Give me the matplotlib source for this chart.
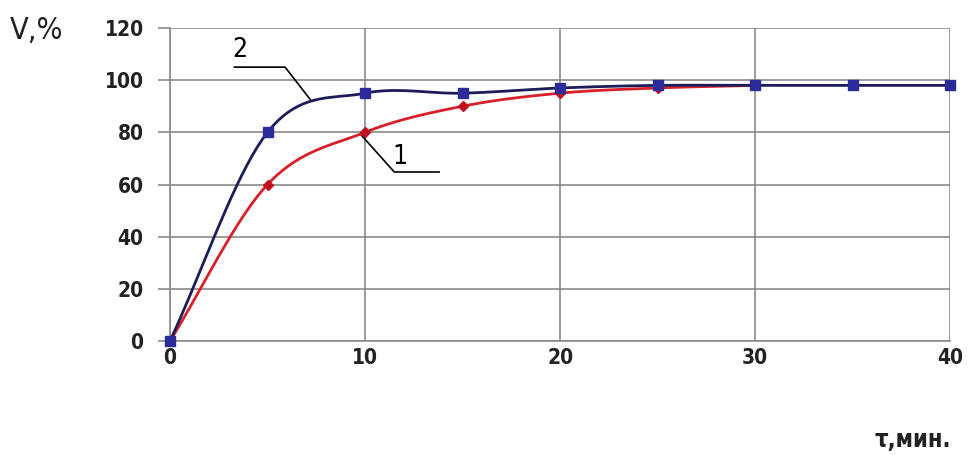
import matplotlib.pyplot as plt
import numpy as np

# данные: время, мин и степень, %
t1 = [0, 5, 10, 15, 20, 25, 30]
v1 = [0, 60, 80, 90, 95, 97, 98]
t2 = [0, 5, 10, 15, 20, 25, 30, 35, 40]
v2 = [0, 80, 95, 95, 97, 98, 98, 98, 98]

x_ticks = [0, 10, 20, 30, 40]
y_ticks = [0, 20, 40, 60, 80, 100, 120]

FONT = ['DejaVu Sans']


# сглаживание как в Excel (Catmull-Rom)
def smooth(x, y, n=20):
    x = np.asarray(x, float)
    y = np.asarray(y, float)
    px = np.concatenate([[2 * x[0] - x[1]], x, [2 * x[-1] - x[-2]]])
    py = np.concatenate([[2 * y[0] - y[1]], y, [2 * y[-1] - y[-2]]])
    xs, ys = [], []
    s = np.linspace(0, 1, n)
    for i in range(1, len(px) - 2):
        for p, out in ((px, xs), (py, ys)):
            p0, p1, p2, p3 = p[i - 1], p[i], p[i + 1], p[i + 2]
            out.extend(0.5 * (2 * p1 + (-p0 + p2) * s
                              + (2 * p0 - 5 * p1 + 4 * p2 - p3) * s ** 2
                              + (-p0 + 3 * p1 - 3 * p2 + p3) * s ** 3))
    return xs, ys


fig = plt.figure(figsize=(9.68, 4.55), dpi=100)
ax = fig.add_axes([0.1756, 0.2505, 0.806, 0.688])

ax.set_xlim(0, 40)
ax.set_ylim(0, 120)
ax.set_xticks(x_ticks)
ax.set_yticks(y_ticks)
ax.grid(True, color='#8a8a8a', lw=1.2)
for s in ['top', 'right']:
    ax.spines[s].set_visible(False)
for s in ['left', 'bottom']:
    ax.spines[s].set_color('#8a8a8a')
    ax.spines[s].set_linewidth(1.2)
ax.tick_params(axis='y', length=9, color='#8a8a8a', width=1.2, pad=10)
ax.tick_params(axis='x', length=0, pad=5)
for lab in ax.get_xticklabels() + ax.get_yticklabels():
    lab.set_fontfamily(FONT)
    lab.set_fontstretch('condensed')
    lab.set_fontsize(15)
    lab.set_fontweight('bold')
    lab.set_color('#222222')

xs, ys = smooth(t1, v1)
ax.plot(xs, ys, color='#d8202a', lw=2, clip_on=False, zorder=3)
ax.plot(t1[:-1], v1[:-1], 'D', color='#c01020', ms=5, zorder=4)

xs, ys = smooth(t2, v2)
ax.plot(xs, ys, color='#1c1c5a', lw=2, clip_on=False, zorder=5)
ax.plot(t2, v2, 's', color='#2b2b9a', ms=6.5, clip_on=False, zorder=6)

# выноски
ax.plot([3.3, 5.9, 7.2], [105, 105, 92.5], color='black', lw=1.2, clip_on=False)
ax.text(3.6, 106.5, '2', fontsize=19, fontfamily=FONT, fontstretch='condensed',
        ha='center', va='bottom')
ax.plot([9.8, 11.5, 13.8], [79, 64.8, 64.8], color='black', lw=1.2, clip_on=False)
ax.text(11.8, 65.5, '1', fontsize=19, fontfamily=FONT, fontstretch='condensed',
        ha='center', va='bottom')

fig.text(0.01, 0.934, 'V,%', fontsize=22, fontfamily=FONT, fontstretch='condensed',
         va='center', color='#222222')
fig.text(0.903, 0.032, 'τ,мин.', fontsize=17, fontfamily=FONT, fontstretch='condensed',
         fontweight='bold', va='center', color='#222222')

fig.savefig('out.png', dpi=100)
